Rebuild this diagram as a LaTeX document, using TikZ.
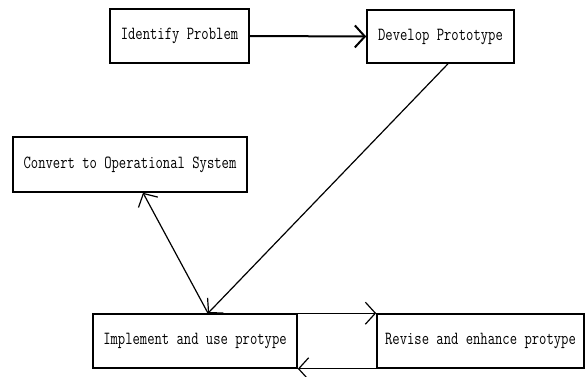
\documentclass[tikz,border=0pt]{standalone}
\usepackage{fontspec}
\newfontfamily\boxfont[FakeStretch=0.77]{Latin Modern Mono}
\usetikzlibrary{arrows.meta}
\tikzset{
	box node/.style={rectangle,draw,line width=1.6pt,inner sep=0pt,font=\boxfont\fontsize{18.5}{20}\selectfont},
	link/.style={line width=1.2pt}
}

\begin{document}
\begin{tikzpicture}[x=1pt,y=-1pt,>={Straight Barb[length=10pt,width=22pt]}]
	\useasboundingbox (0,0) rectangle (587,377);
	\node [box node,minimum width=139pt,minimum height=54pt] (identify) at (179.5,36) {Identify Problem};
	\node [box node,minimum width=147pt,minimum height=53pt] (develop) at (440.5,36.5) {Develop Prototype};
	\node [box node,minimum width=234pt,minimum height=55pt] (convert) at (130,164.5) {Convert to Operational System};
	\node [box node,minimum width=204pt,minimum height=54pt] (implement) at (195,341) {Implement and use protype};
	\node [box node,minimum width=207pt,minimum height=54pt] (revise) at (480.5,341) {Revise and enhance protype};
	\coordinate (meet) at ([xshift=13pt]implement.north);
	% connectors
	\draw [->,line width=2pt] (identify.east) -- (develop.west);
	\draw [->,link] ([xshift=7.5pt]develop.south) -- (meet);
	\draw [->,link] (meet) -- ([xshift=13pt]convert.south);
	\draw [->,link] (implement.north east) -- (revise.north west);
	\draw [->,link] (revise.south west) -- (implement.south east);
\end{tikzpicture}
\end{document}
